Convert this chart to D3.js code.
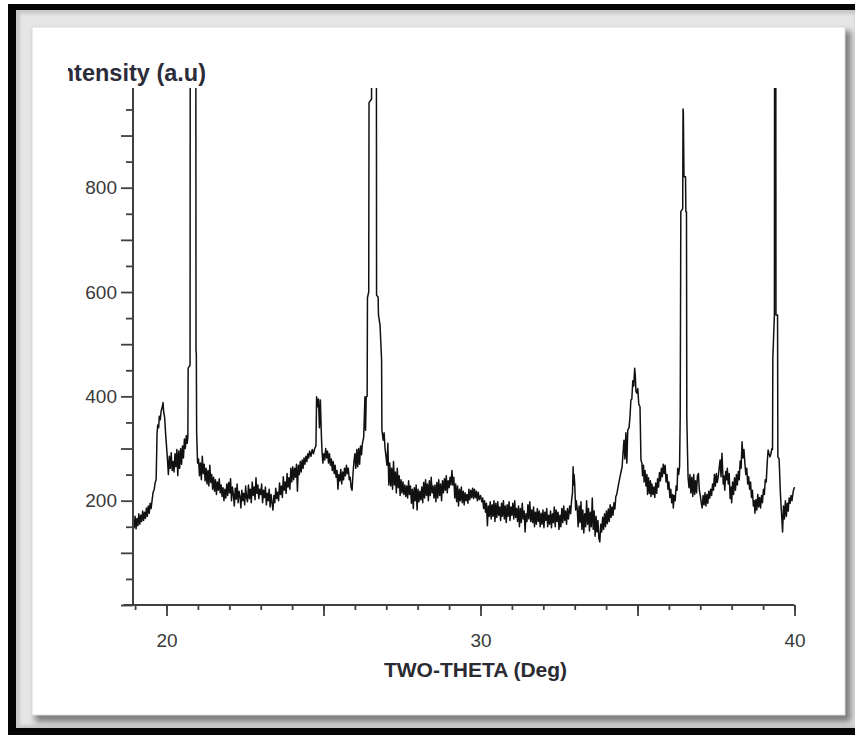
<!DOCTYPE html>
<html>
<head>
<meta charset="utf-8">
<script src="https://cdn.jsdelivr.net/npm/d3@7"></script>
<style>
html, body { margin:0; padding:0; background:#fff; }
svg { display:block; }
</style>
</head>
<body>
<div id="chart"></div>
<script>
// ---- data: [two-theta (deg), intensity (a.u)] ----
var scan19to20 = [[18.94,162],[18.97,148],[19.00,170],[19.03,146],[19.06,166],[19.09,152],[19.12,175],[19.15,155],[19.18,172],[19.21,160],[19.24,180],[19.27,162],[19.30,178],[19.33,166],[19.36,186],[19.39,170],[19.42,190],[19.45,176],[19.48,195],[19.51,185],[19.54,200],[19.57,215],[19.61,222],[19.64,235],[19.67,240],[19.70,330],[19.72,345],[19.75,340],[19.77,362],[19.80,355],[19.83,372],[19.86,378],[19.89,388],[19.91,370],[19.94,360],[19.97,330],[20.00,305]];
var scan20to21 = [[20.03,280],[20.06,250],[20.09,285],[20.12,262],[20.15,292],[20.18,258],[20.21,275],[20.24,255],[20.27,290],[20.30,265],[20.33,298],[20.36,248],[20.39,295],[20.42,262],[20.45,300],[20.48,270],[20.51,305],[20.54,282],[20.57,318],[20.60,300],[20.63,325],[20.66,310],[20.68,322],[20.69,454],[20.75,460],[20.76,1500],[20.93,1500],[20.94,489],[20.95,480],[20.96,330],[20.99,272]];
var scan21to22 = [[21.02,280],[21.05,248],[21.08,272],[21.11,240],[21.14,285],[21.17,252],[21.20,270],[21.23,238],[21.26,262],[21.29,232],[21.32,258],[21.35,228],[21.38,268],[21.41,235],[21.44,250],[21.47,222],[21.50,245],[21.53,218],[21.56,240],[21.59,212],[21.62,236],[21.65,220],[21.68,242],[21.71,215],[21.74,230],[21.77,208],[21.80,225],[21.83,200],[21.86,222],[21.89,205],[21.92,232],[21.95,210],[21.98,235]];
var scan22to24 = [[22.01,215],[22.04,242],[22.07,200],[22.10,226],[22.13,212],[22.16,190],[22.19,224],[22.22,203],[22.25,232],[22.28,196],[22.31,218],[22.34,208],[22.37,186],[22.40,220],[22.43,200],[22.46,214],[22.49,192],[22.52,228],[22.55,206],[22.58,198],[22.61,230],[22.64,204],[22.67,222],[22.70,196],[22.73,236],[22.76,210],[22.79,226],[22.82,202],[22.85,244],[22.88,214],[22.91,230],[22.94,204],[22.97,222],[23.00,212],[23.03,232],[23.06,196],[23.09,220],[23.12,206],[23.15,226],[23.18,192],[23.21,214],[23.24,200],[23.27,222],[23.30,188],[23.33,212],[23.36,196],[23.39,182],[23.42,210],[23.45,196],[23.48,224],[23.51,204],[23.54,216],[23.57,200],[23.60,234],[23.63,212],[23.66,228],[23.69,206],[23.72,246],[23.75,220],[23.78,236],[23.81,214],[23.84,252],[23.87,226],[23.90,244],[23.93,222],[23.96,262],[23.99,236]];
var scan24to25 = [[24.02,265],[24.05,240],[24.08,262],[24.11,245],[24.14,270],[24.17,218],[24.20,268],[24.23,250],[24.26,275],[24.29,255],[24.32,278],[24.35,262],[24.38,282],[24.41,270],[24.44,285],[24.47,275],[24.50,290],[24.53,282],[24.56,295],[24.60,285],[24.64,298],[24.68,290],[24.72,300],[24.76,305],[24.78,399],[24.81,380],[24.84,395],[24.87,340],[24.90,393],[24.93,330],[24.95,297],[24.98,272]];
var scan25to27 = [[25.01,290],[25.04,278],[25.07,300],[25.10,282],[25.13,295],[25.16,272],[25.19,290],[25.22,268],[25.25,280],[25.28,258],[25.31,275],[25.34,252],[25.37,268],[25.40,245],[25.43,258],[25.46,222],[25.49,250],[25.52,238],[25.55,260],[25.58,232],[25.61,255],[25.64,240],[25.67,262],[25.70,248],[25.73,268],[25.76,252],[25.79,262],[25.82,240],[25.85,245],[25.88,225],[25.91,220],[25.94,252],[25.97,275],[26.00,290],[26.03,262],[26.06,298],[26.09,265],[26.12,300],[26.15,270],[26.18,305],[26.21,288],[26.24,310],[26.28,322],[26.30,360],[26.32,399],[26.34,335],[26.36,399],[26.39,400],[26.40,589],[26.44,600],[26.45,963],[26.53,970],[26.54,1500],[26.68,1500],[26.69,594],[26.74,590],[26.75,556],[26.80,537],[26.85,470],[26.86,335],[26.90,316],[26.93,330],[26.96,300]];
var scan27to30 = [[26.99,285],[27.02,268],[27.05,310],[27.08,230],[27.11,272],[27.14,228],[27.17,262],[27.20,222],[27.23,275],[27.26,230],[27.29,255],[27.32,215],[27.35,262],[27.38,225],[27.41,248],[27.44,210],[27.47,240],[27.50,215],[27.53,236],[27.56,212],[27.59,230],[27.62,208],[27.65,228],[27.68,205],[27.71,238],[27.74,212],[27.77,228],[27.80,195],[27.83,222],[27.86,185],[27.89,225],[27.92,200],[27.95,230],[27.98,182],[28.01,222],[28.04,198],[28.07,218],[28.10,202],[28.13,226],[28.16,196],[28.19,235],[28.22,205],[28.25,240],[28.28,210],[28.31,232],[28.34,200],[28.37,238],[28.40,210],[28.43,245],[28.46,215],[28.49,228],[28.52,205],[28.55,230],[28.58,198],[28.61,235],[28.64,205],[28.67,240],[28.70,210],[28.73,232],[28.76,200],[28.79,238],[28.82,215],[28.85,242],[28.88,220],[28.91,248],[28.94,215],[28.97,238],[29.00,225],[29.03,245],[29.06,230],[29.09,258],[29.12,230],[29.15,245],[29.18,205],[29.21,232],[29.24,198],[29.27,228],[29.30,190],[29.33,222],[29.36,200],[29.39,226],[29.42,196],[29.45,218],[29.48,192],[29.51,215],[29.54,200],[29.57,212],[29.60,195],[29.63,222],[29.66,202],[29.69,220],[29.72,206],[29.75,224],[29.78,204],[29.81,222],[29.84,206],[29.87,218],[29.90,200],[29.93,216],[29.96,202]];
var scan30to33 = [[30.00,210],[30.04,198],[30.07,205],[30.10,185],[30.13,200],[30.16,178],[30.19,195],[30.22,152],[30.25,190],[30.28,170],[30.31,198],[30.34,165],[30.37,192],[30.40,170],[30.43,200],[30.46,160],[30.49,195],[30.52,168],[30.55,198],[30.58,172],[30.61,188],[30.64,162],[30.67,195],[30.70,170],[30.73,200],[30.76,165],[30.79,190],[30.82,158],[30.85,192],[30.88,170],[30.91,198],[30.94,162],[30.97,188],[31.00,172],[31.03,195],[31.06,165],[31.09,200],[31.12,168],[31.15,185],[31.18,160],[31.21,190],[31.24,150],[31.27,185],[31.30,158],[31.33,195],[31.36,165],[31.39,180],[31.42,140],[31.45,175],[31.48,160],[31.51,192],[31.54,165],[31.57,198],[31.60,160],[31.63,182],[31.66,158],[31.69,188],[31.72,150],[31.75,178],[31.78,155],[31.81,185],[31.84,160],[31.87,180],[31.90,150],[31.93,176],[31.96,155],[31.99,182],[32.02,148],[32.05,178],[32.08,162],[32.11,185],[32.14,150],[32.17,172],[32.20,155],[32.23,180],[32.26,148],[32.29,175],[32.32,158],[32.35,188],[32.38,150],[32.41,182],[32.44,160],[32.47,178],[32.50,145],[32.53,172],[32.56,150],[32.59,185],[32.62,158],[32.65,190],[32.68,162],[32.71,180],[32.74,155],[32.77,185],[32.80,165],[32.84,190],[32.87,175],[32.90,200],[32.93,215],[32.95,265],[32.96,230],[32.98,250],[33.00,234],[33.03,182],[33.05,200]];
var scan33to35 = [[33.08,185],[33.11,150],[33.14,190],[33.17,158],[33.20,198],[33.23,145],[33.26,182],[33.29,138],[33.32,175],[33.35,150],[33.38,200],[33.41,155],[33.44,185],[33.47,142],[33.50,178],[33.53,150],[33.56,205],[33.59,145],[33.62,180],[33.65,132],[33.68,170],[33.71,140],[33.74,162],[33.77,128],[33.80,121],[33.83,155],[33.86,140],[33.89,168],[33.92,145],[33.95,175],[33.98,150],[34.01,180],[34.04,156],[34.07,184],[34.10,160],[34.13,192],[34.16,168],[34.19,188],[34.22,172],[34.25,196],[34.28,184],[34.31,208],[34.34,212],[34.38,226],[34.44,245],[34.51,265],[34.55,300],[34.57,316],[34.60,280],[34.63,330],[34.66,272],[34.69,335],[34.73,340],[34.76,360],[34.79,393],[34.82,395],[34.85,430],[34.88,420],[34.91,454],[34.93,440],[34.95,410],[34.98,406],[35.01,415],[35.04,385],[35.08,380],[35.11,278]];
var scan35to37 = [[35.14,272],[35.16,248],[35.19,268],[35.21,236],[35.24,258],[35.27,228],[35.30,250],[35.32,212],[35.35,244],[35.38,214],[35.41,238],[35.43,208],[35.46,232],[35.49,212],[35.52,226],[35.55,206],[35.58,234],[35.61,214],[35.64,242],[35.67,226],[35.70,254],[35.73,238],[35.76,262],[35.79,246],[35.82,270],[35.85,252],[35.88,268],[35.91,236],[35.94,250],[35.97,222],[36.00,236],[36.03,206],[36.06,222],[36.09,196],[36.12,212],[36.14,186],[36.17,210],[36.20,200],[36.23,228],[36.26,220],[36.28,262],[36.31,250],[36.34,265],[36.36,361],[36.38,754],[36.44,760],[36.45,951],[36.46,945],[36.48,821],[36.53,821],[36.54,754],[36.56,754],[36.57,361],[36.59,300],[36.61,245]];
var scan37to40 = [[36.64,225],[36.67,250],[36.70,215],[36.73,245],[36.76,208],[36.79,250],[36.82,212],[36.85,238],[36.88,215],[36.91,248],[36.94,252],[36.97,220],[37.00,210],[37.03,196],[37.06,186],[37.09,210],[37.12,192],[37.15,215],[37.18,190],[37.21,212],[37.24,195],[37.27,218],[37.30,205],[37.33,222],[37.36,210],[37.39,232],[37.42,220],[37.45,250],[37.48,228],[37.51,252],[37.54,235],[37.57,245],[37.60,262],[37.63,278],[37.66,246],[37.69,291],[37.71,262],[37.73,232],[37.75,248],[37.78,220],[37.81,256],[37.84,240],[37.86,262],[37.89,232],[37.92,252],[37.95,204],[37.98,226],[38.00,196],[38.03,236],[38.06,212],[38.09,244],[38.12,220],[38.15,250],[38.18,230],[38.21,256],[38.24,240],[38.27,276],[38.30,262],[38.33,313],[38.36,282],[38.39,298],[38.42,272],[38.45,250],[38.48,262],[38.51,232],[38.54,246],[38.57,222],[38.60,236],[38.63,206],[38.66,220],[38.69,190],[38.72,200],[38.74,176],[38.77,202],[38.80,182],[38.83,212],[38.86,188],[38.89,206],[38.92,186],[38.95,210],[38.98,196],[39.01,222],[39.04,212],[39.07,240],[39.10,236],[39.13,272],[39.16,297],[39.19,290],[39.22,284],[39.25,290],[39.28,300],[39.30,298],[39.31,473],[39.36,556],[39.37,1500],[39.40,1500],[39.41,556],[39.46,556],[39.47,284],[39.51,280],[39.55,215],[39.62,140],[39.65,190],[39.68,165],[39.71,200],[39.74,170],[39.77,195],[39.80,180],[39.83,205],[39.86,195],[39.89,210],[39.92,200],[39.96,218],[40.00,226]];

var xMinorTicks = d3.range(19, 41);
var xMajorTicks = [20, 25, 30, 35, 40];
var xLabelled = [20, 30, 40];
var yMinorTicks = d3.range(50, 1000, 100);
var yMajorTicks = d3.range(0, 1000, 100);
var yLabelled = [200, 400, 600, 800];
var xTitle = "TWO-THETA (Deg)";
var yTitle = "Intensity (a.u)";

var scan = [].concat(scan19to20, scan20to21, scan21to22, scan22to24, scan24to25,
                     scan25to27, scan27to30, scan30to33, scan33to35, scan35to37, scan37to40);

var width = 855, height = 735;
var svg = d3.select("#chart").append("svg")
    .attr("width", width)
    .attr("height", height);

// ---- picture frame (black border, bevel, shadow, white panel) ----
var defs = svg.append("defs");
defs.append("filter").attr("id", "blur3")
    .attr("x", "-5%").attr("y", "-5%").attr("width", "110%").attr("height", "110%")
    .append("feGaussianBlur").attr("stdDeviation", 3);
defs.append("filter").attr("id", "blur1")
    .append("feGaussianBlur").attr("stdDeviation", 1.5);

svg.append("rect").attr("x", 8).attr("y", 4).attr("width", 847).attr("height", 731).attr("fill", "#050505");
svg.append("rect").attr("x", 16).attr("y", 10).attr("width", 839).attr("height", 718).attr("fill", "#c9c9c9");
svg.append("rect").attr("x", 20).attr("y", 14).attr("width", 835).attr("height", 711)
    .attr("fill", "#e6e6e6").attr("filter", "url(#blur1)");
svg.append("rect").attr("x", 35).attr("y", 31).attr("width", 816).attr("height", 691)
    .attr("fill", "#7a7a7a").attr("filter", "url(#blur3)");
svg.append("rect").attr("x", 32).attr("y", 27).attr("width", 813).attr("height", 688)
    .attr("fill", "#ffffff").attr("stroke", "#dcdcdc").attr("stroke-width", 1);

// ---- scales ----
var x = d3.scaleLinear().domain([20, 40]).range([166.5, 794.5]);
var y = d3.scaleLinear().domain([0, 800]).range([605, 187.7]);
var yAxisX = 133, yTop = 991, xAxisLeft = 18.63;

var axisColor = "#404040";

// ---- data line, clipped to the plot box ----
defs.append("clipPath").attr("id", "plotclip")
  .append("rect")
    .attr("x", yAxisX).attr("y", y(yTop))
    .attr("width", x(40.3) - yAxisX).attr("height", y(0) - y(yTop));

var line = d3.line()
    .x(function(d){ return x(d[0]); })
    .y(function(d){ return y(d[1]); });

svg.append("path")
    .datum(scan)
    .attr("clip-path", "url(#plotclip)")
    .attr("fill", "none")
    .attr("stroke", "#111")
    .attr("stroke-width", 1.5)
    .attr("stroke-linejoin", "round")
    .attr("d", line);

// ---- x axis ----
var gx = svg.append("g").attr("transform", "translate(0," + y(0) + ")");
gx.append("g")
    .call(d3.axisBottom(x).tickValues(xMinorTicks).tickSize(5).tickFormat(""));
gx.append("g")
    .call(d3.axisBottom(x).tickValues(xMajorTicks).tickSize(11).tickPadding(18)
        .tickFormat(function(d){ return xLabelled.indexOf(d) >= 0 ? d : ""; }));
gx.selectAll(".domain").remove();
gx.selectAll(".tick line").attr("stroke", axisColor).attr("stroke-width", 1.8);
gx.selectAll(".tick text")
    .attr("font-family", "Arial, 'Liberation Sans', sans-serif")
    .attr("font-size", "19px")
    .attr("fill", "#3a3a3a");
gx.append("line")
    .attr("x1", x(xAxisLeft)).attr("x2", x(40))
    .attr("stroke", axisColor).attr("stroke-width", 2);

// ---- y axis ----
var gy = svg.append("g").attr("transform", "translate(" + yAxisX + ",0)");
gy.append("g")
    .call(d3.axisLeft(y).tickValues(yMinorTicks).tickSize(7).tickFormat(""));
gy.append("g")
    .call(d3.axisLeft(y).tickValues(yMajorTicks).tickSize(12).tickPadding(4)
        .tickFormat(function(d){ return yLabelled.indexOf(d) >= 0 ? d : ""; }));
gy.selectAll(".domain").remove();
gy.selectAll(".tick line").attr("stroke", axisColor).attr("stroke-width", 1.8);
gy.selectAll(".tick text")
    .attr("font-family", "Arial, 'Liberation Sans', sans-serif")
    .attr("font-size", "19px")
    .attr("fill", "#3a3a3a");
gy.append("line")
    .attr("y1", y(0)).attr("y2", y(yTop))
    .attr("stroke", axisColor).attr("stroke-width", 2);

// ---- titles ----
svg.append("text")
    .attr("x", (x(20) + x(40)) / 2 - 5)
    .attr("y", 677)
    .attr("text-anchor", "middle")
    .attr("font-family", "Arial, 'Liberation Sans', sans-serif")
    .attr("font-size", "21px")
    .attr("font-weight", "bold")
    .attr("fill", "#2b2b33")
    .text(xTitle);

// y title is cut on its left side, like in the original export
defs.append("clipPath").attr("id", "ytitleclip")
  .append("rect").attr("x", 68).attr("y", 50).attr("width", 200).attr("height", 50);
svg.append("text")
    .attr("clip-path", "url(#ytitleclip)")
    .attr("x", 206)
    .attr("y", 81)
    .attr("text-anchor", "end")
    .attr("font-family", "Arial, 'Liberation Sans', sans-serif")
    .attr("font-size", "23.5px")
    .attr("font-weight", "bold")
    .attr("fill", "#2b2b3a")
    .text(yTitle);
</script>
</body>
</html>
